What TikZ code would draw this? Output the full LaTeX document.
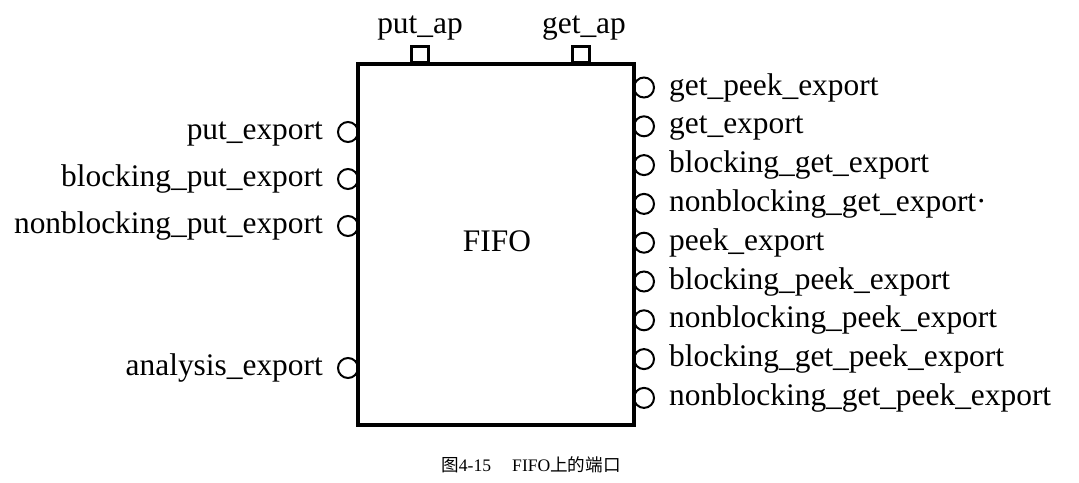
\documentclass[tikz,border=0pt]{standalone}
\usepackage{fontspec}
\setmainfont{Liberation Serif}
\newfontfamily\cjk{Noto Sans CJK SC}
\begin{document}
\begin{tikzpicture}[x=1pt,y=-1pt,
  lbl/.style={inner sep=0pt,font=\fontsize{31.4}{36}\selectfont},
  port/.style={circle,draw,line width=2pt,minimum size=20pt,inner sep=0pt},
  apbox/.style={draw,line width=3pt,minimum width=17pt,minimum height=16pt,inner sep=0pt}]
\useasboundingbox (0,0) rectangle (1079,482);
% main block
\node[draw,line width=3.5pt,minimum width=276pt,minimum height=361pt,inner sep=0pt] (fifo) at (496,244.5) {};
\node[lbl] (fifolbl) at (497,241) {FIFO};
% top ports
\node[apbox,anchor=south] (putap) at (420,64) {};
\node[apbox,anchor=south] (getap) at (580.5,64) {};
\node[lbl,anchor=base] (putaplbl) at (420,33) {put\_ap};
\node[lbl,anchor=base] (getaplbl) at (584,33) {get\_ap};
% left ports
\foreach \y/\n/\t in {132/pe/put\_export,179/bpe/blocking\_put\_export,226/npe/nonblocking\_put\_export,368/ae/analysis\_export}{
  \node[port] (c\n) at (348,\y) {};
  \node[lbl,anchor=base east] (l\n) at (323,\y+7.5) {\t};
}
% right ports
\foreach \i/\n/\t in {0/gpe/get\_peek\_export,1/ge/get\_export,2/bge/blocking\_get\_export,3/nge/nonblocking\_get\_export·,4/pke/peek\_export,5/bpke/blocking\_peek\_export,6/npke/nonblocking\_peek\_export,7/bgpe/blocking\_get\_peek\_export,8/ngpe/nonblocking\_get\_peek\_export}{
  \node[port] (c\n) at (644,87.5+38.8*\i) {};
  \node[lbl,anchor=base west] (l\n) at (669,87.5+38.8*\i+7.5) {\t};
}
% caption
\node[inner sep=0pt,font=\fontsize{17.6}{20}\selectfont] (cap) at (531,465) {{\cjk 图}4-15\hspace{1.2em}FIFO{\cjk 上的端口}};
\end{tikzpicture}
\end{document}
